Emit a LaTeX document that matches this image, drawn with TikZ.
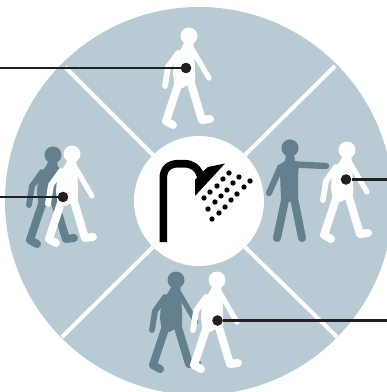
\documentclass[tikz,border=0pt]{standalone}
\usepackage{xcolor}
\usetikzlibrary{positioning}
\definecolor{dialBlue}{HTML}{B8CAD3}
\definecolor{figGray}{HTML}{64808F}
\definecolor{markBlack}{HTML}{231F20}
\tikzset{
  limb/.style={line cap=round, line join=round, line width=#1},
  pics/walker/.style={code={
    \fill[#1] (0,0) circle (8.5);
    \fill[#1] (-4,5) -- (4,5) -- (5,13) -- (6,32) -- (6,45) -- (-6.5,52) -- (-14.5,49) -- (-16,38) -- (-15,23) -- (-7,11) -- cycle;
    \draw[#1, limb=5.8] (-11,17) -- (-21,31) -- (-24,50);
    \draw[#1, limb=5.2] (3,13) -- (20,42);
    \draw[#1, limb=8] (-10,46) -- (-23,85) -- (-16,89);
    \draw[#1, limb=8] (1,44) -- (13,84) -- (21,83);
  }},
  pics/stander/.style={code={
    \fill[#1] (0,0) circle (8.6);
    \fill[#1] (-4,6) -- (4,6) -- (5,13) -- (9,14) -- (8,30) -- (8,50) -- (0,54) -- (-9,50) -- (-10,26) -- (-13,18) -- (-5,13) -- cycle;
    \draw[#1, limb=6.4] (5,16.5) -- (36,18);
    \draw[#1, limb=6.2] (-10,20) -- (-21,45);
    \draw[#1, limb=8] (-4.5,50) -- (-13,90);
    \draw[#1, limb=8] (4,50) -- (12,90);
  }}
}
\begin{document}
\begin{tikzpicture}[
  x=1pt, y=-1pt,
  dial/.style={circle, fill=dialBlue, inner sep=0pt, minimum size=388pt},
  hub/.style={circle, fill=white, inner sep=0pt, minimum size=130pt},
  spoke/.style={draw=white, line width=4pt},
  marker/.style={circle, fill=markBlack, inner sep=0pt, minimum size=10.6pt},
  leader/.style={draw=markBlack, line width=2.4pt}
]
\useasboundingbox (0,0) rectangle (387,392);
\clip (0,0) rectangle (387,392);
\node[dial] (dial) at (199,201) {};
% spokes
\draw[spoke] (65,67) -- (153,155);
\draw[spoke] (335,66) -- (245,155);
\draw[spoke] (62,337) -- (153,247);
\draw[spoke] (337,337) -- (245,247);
\node[hub] (hub) at (199,201) {};
% shower
\draw[black, line width=7.6pt] (163.3,242) -- (163.3,178) .. controls (163.3,168) and (170,163.7) .. (178,163.7) -- (184,163.7) .. controls (193,163.7) and (198,168) .. (201,177);
\fill[black] (195,196) -- (225,163.5) -- (208,167) -- (200,174) -- (195,180) -- cycle;
\foreach \px/\py in {229/173,239/177,250/181,223/179,233/183,244/187,217/186,227/190,237/194,210/192,221/196,231/200,204/198,215/202,225/207,208/209,219/213,212/219}
  \fill[black] (\px,\py) circle (2.7);
% people
\pic at (189,36) {walker=white};
\pic at (53,155) {walker=figGray};
\pic at (72,154) {walker=white};
\pic at (290,148) {stander=figGray};
\pic at (347,150) {walker=white};
\pic at (176,280) {walker=figGray};
\pic at (217,280) {walker=white};
% leaders
\node[marker] (topdot) at (186,68) {};
\node[marker] (leftdot) at (63,197) {};
\node[marker] (rightdot) at (346,179.5) {};
\node[marker] (lowdot) at (217.5,320.5) {};
\coordinate (topend) at (0,68);
\coordinate (leftend) at (0,197);
\coordinate (rightend) at (387,179.5);
\coordinate (lowend) at (387,320.5);
\draw[leader] (topend) -- (topdot);
\draw[leader] (leftend) -- (leftdot);
\draw[leader] (rightend) -- (rightdot);
\draw[leader] (lowend) -- (lowdot);
\end{tikzpicture}
\end{document}
